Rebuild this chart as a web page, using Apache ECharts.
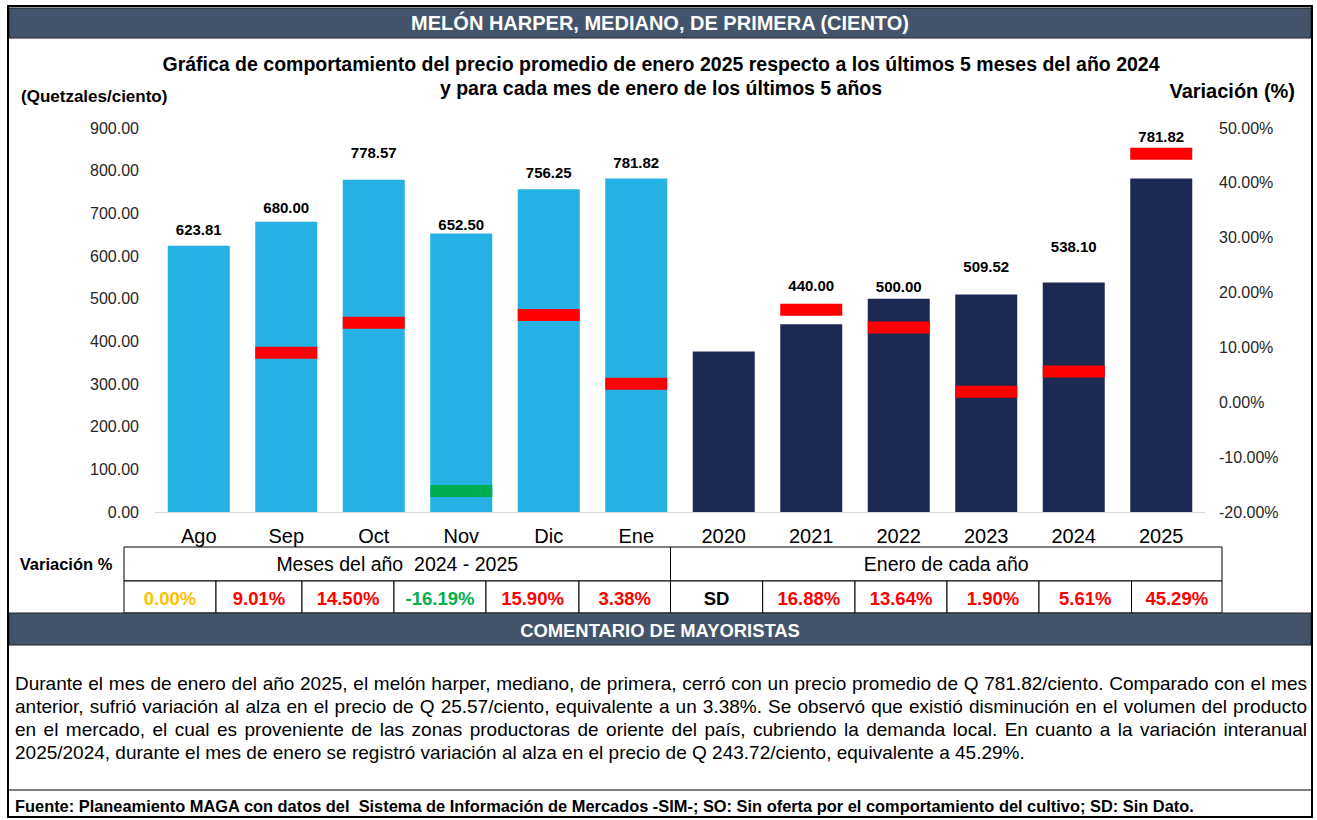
<!DOCTYPE html>
<html>
<head>
<meta charset="utf-8">
<script src="https://cdn.jsdelivr.net/npm/echarts@6/dist/echarts.min.js"></script>
<style>
  html, body { margin: 0; padding: 0; background: #fff; }
  #chart { width: 1317px; height: 820px; }
</style>
</head>
<body>
<div id="chart"></div>
<script>
// categories: last months 2024-2025, then January of each year
const categories = ['Ago', 'Sep', 'Oct', 'Nov', 'Dic', 'Ene', '2020', '2021', '2022', '2023', '2024', '2025']
// average price (Quetzales/ciento)
const prices = [623.81, 680.00, 778.57, 652.50, 756.25, 781.82, 376.45, 440.00, 500.00, 509.52, 538.10, 781.82]
// variation (%), null = SD (sin dato)
const variations = [0.00, 9.01, 14.50, -16.19, 15.90, 3.38, null, 16.88, 13.64, 1.90, 5.61, 45.29]
const leftTicks = [0, 900, 100]
const rightTicks = [-20, 50, 10]

const FONT = '"Liberation Sans", Arial, sans-serif'
const lightBlue = '#25B1E4'
const navy = '#1E2953'
const slate = '#44546A'
const red = '#FF0000'
const green = '#00B050'
const amber = '#FFC000'

// manual label gaps (the Excel labels were nudged by hand)
const labelGaps = [9, 7, 20, 2, 9, 8, 0, 31, 5, 21, 28, 34]

const chart = echarts.init(document.getElementById('chart'), null, { renderer: 'svg' })

const barData = prices.map((v, i) => ({
  value: v,
  itemStyle: { color: i < 6 ? lightBlue : navy },
  label: { show: categories[i] !== '2020', distance: labelGaps[i] }
}))

const markerData = variations.map(v => {
  if (v === null || v === 0) return null
  return { value: v, itemStyle: { color: v < 0 ? green : red, opacity: 1 } }
})

const graphics = []
const measureCtx = document.createElement('canvas').getContext('2d')

function addText(x, y, text, font, fill, align) {
  graphics.push({ type: 'text', x: x, y: y, style: { text: text, fill: fill || '#000', font: font, textAlign: align || 'left', textVerticalAlign: 'middle' } })
}

// justified paragraph line: place each word so the line fills x0..x1
function addJustified(line, y, font, x0, x1) {
  measureCtx.font = font
  const words = line.split(' ').filter(w => w.length)
  const widths = words.map(w => measureCtx.measureText(w).width)
  const total = widths.reduce((a, b) => a + b, 0)
  const gap = (x1 - x0 - total) / (words.length - 1)
  let x = x0
  words.forEach((w, i) => {
    addText(x, y, w, font, '#000', 'left')
    x += widths[i] + gap
  })
}

// outer frame
graphics.push({ type: 'rect', shape: { x: 8, y: 6, width: 1304, height: 811 }, style: { fill: 'none', stroke: '#000', lineWidth: 2 }, z: 10 })
// title bar
graphics.push({ type: 'rect', shape: { x: 9, y: 8, width: 1302, height: 30 }, style: { fill: slate, stroke: '#222', lineWidth: 1 } })
addText(660, 23, 'MELÓN HARPER, MEDIANO, DE PRIMERA (CIENTO)', 'bold 20px ' + FONT, '#fff', 'center')
// subtitle
addText(661, 64, 'Gráfica de comportamiento del precio promedio de enero 2025 respecto a los últimos 5 meses del año 2024', 'bold 19.5px ' + FONT, '#000', 'center')
addText(661, 88, 'y para cada mes de enero de los últimos 5 años', 'bold 19.5px ' + FONT, '#000', 'center')
addText(21, 96, '(Quetzales/ciento)', 'bold 17px ' + FONT, '#000', 'left')
addText(1295, 91, 'Variación (%)', 'bold 20px ' + FONT, '#000', 'right')

// variation table
const cellX = [124, 216, 302, 394, 486, 579, 670.5, 762.7, 855, 947, 1039, 1131.5, 1222]
const rowTop = 547, rowMid = 581, rowBot = 613
addText(66, 564, 'Variación %', 'bold 16.5px ' + FONT, '#000', 'center')
graphics.push({ type: 'rect', shape: { x: cellX[0], y: rowTop, width: cellX[6] - cellX[0], height: rowMid - rowTop }, style: { fill: '#fff', stroke: '#000', lineWidth: 1 } })
graphics.push({ type: 'rect', shape: { x: cellX[6], y: rowTop, width: cellX[12] - cellX[6], height: rowMid - rowTop }, style: { fill: '#fff', stroke: '#000', lineWidth: 1 } })
addText((cellX[0] + cellX[6]) / 2, (rowTop + rowMid) / 2, 'Meses del año  2024 - 2025', '19.5px ' + FONT, '#000', 'center')
addText((cellX[6] + cellX[12]) / 2, (rowTop + rowMid) / 2, 'Enero de cada año', '19.5px ' + FONT, '#000', 'center')
variations.forEach((v, i) => {
  graphics.push({ type: 'rect', shape: { x: cellX[i], y: rowMid, width: cellX[i + 1] - cellX[i], height: rowBot - rowMid }, style: { fill: '#fff', stroke: '#000', lineWidth: 1 } })
  let txt = 'SD'
  let col = '#000'
  if (v !== null) {
    txt = v.toFixed(2) + '%'
    col = v > 0 ? red : (v < 0 ? green : amber)
  }
  addText((cellX[i] + cellX[i + 1]) / 2, (rowMid + rowBot) / 2 + 1, txt, 'bold 18.5px ' + FONT, col, 'center')
})

// comment section
graphics.push({ type: 'rect', shape: { x: 9, y: 613, width: 1302, height: 32 }, style: { fill: slate, stroke: '#222', lineWidth: 1 } })
addText(660, 630, 'COMENTARIO DE MAYORISTAS', 'bold 18.4px ' + FONT, '#fff', 'center')
const commentLines = [
  'Durante el mes de enero del año 2025, el melón harper, mediano, de primera, cerró con un precio promedio de Q 781.82/ciento. Comparado con el mes',
  'anterior, sufrió variación al alza  en el precio de Q 25.57/ciento, equivalente a un 3.38%. Se observó que existió disminución en el volumen del producto',
  'en el mercado, el cual es proveniente de las zonas productoras de oriente del país, cubriendo la demanda local. En cuanto a la variación interanual',
  '2025/2024, durante el mes de enero se registró variación al alza en el precio de Q 243.72/ciento, equivalente a 45.29%.'
]
const commentFont = '19px "Liberation Sans"'
commentLines.forEach((line, i) => {
  const y = 683 + i * 23
  if (i < commentLines.length - 1) addJustified(line, y, commentFont, 15, 1307)
  else addText(15, y, line, commentFont, '#000', 'left')
})
graphics.push({ type: 'line', shape: { x1: 9, y1: 790, x2: 1311, y2: 790 }, style: { stroke: '#555', lineWidth: 1.5 } })
addText(15, 806, 'Fuente: Planeamiento MAGA con datos del  Sistema de Información de Mercados -SIM-; SO: Sin oferta por el comportamiento del cultivo; SD: Sin Dato.', 'bold 16.4px ' + FONT, '#000', 'left')

chart.setOption({
  animation: false,
  textStyle: { fontFamily: FONT },
  grid: { left: 155, right: 112, top: 128, bottom: 308 },
  xAxis: {
    type: 'category',
    data: categories,
    axisLine: { lineStyle: { color: '#D9D9D9', width: 1 } },
    axisTick: { show: false },
    axisLabel: { color: '#000', fontSize: 20, margin: 14 }
  },
  yAxis: [
    {
      type: 'value',
      min: leftTicks[0],
      max: leftTicks[1],
      interval: leftTicks[2],
      axisLine: { show: false },
      axisTick: { show: false },
      splitLine: { show: false },
      axisLabel: { color: '#262626', fontSize: 16, margin: 16, formatter: v => v.toFixed(2) }
    },
    {
      type: 'value',
      min: rightTicks[0],
      max: rightTicks[1],
      interval: rightTicks[2],
      position: 'right',
      axisLine: { show: false },
      axisTick: { show: false },
      splitLine: { show: false },
      axisLabel: { color: '#262626', fontSize: 16, margin: 14, formatter: v => v.toFixed(2) + '%' }
    }
  ],
  series: [
    {
      type: 'bar',
      data: barData,
      barWidth: 62,
      label: {
        show: true,
        position: 'top',
        color: '#000',
        fontWeight: 'bold',
        fontSize: 15,
        formatter: p => p.value.toFixed(2)
      }
    },
    {
      type: 'scatter',
      yAxisIndex: 1,
      symbol: 'rect',
      symbolSize: [62, 12],
      data: markerData,
      itemStyle: { opacity: 1 },
      z: 5
    }
  ],
  graphic: graphics
})
</script>
</body>
</html>
